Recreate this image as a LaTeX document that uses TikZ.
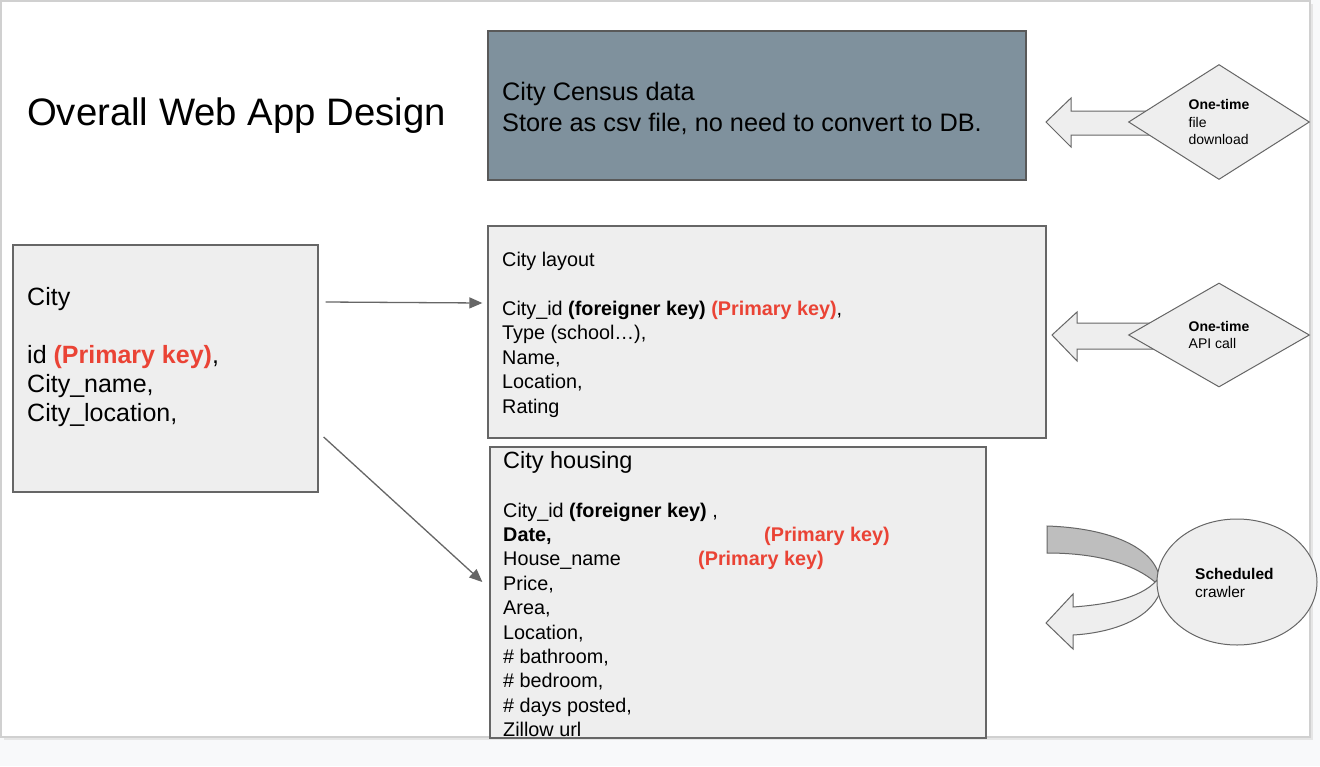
\documentclass[tikz,border=0pt]{standalone}
\usepackage{xcolor}
\usepackage{fontspec}
\usepackage{tikz}
\setmainfont{Liberation Sans}
\definecolor{keyRed}{RGB}{234, 67, 53}
\definecolor{censusGray}{RGB}{127, 145, 157}
\definecolor{boxGray}{RGB}{238, 238, 238}
\definecolor{edgeGray}{RGB}{102, 102, 102}
\definecolor{bandGray}{RGB}{190, 190, 190}
\definecolor{pageGray}{RGB}{248, 249, 250}
\definecolor{frameGray}{RGB}{208, 208, 208}
\usetikzlibrary{shapes.geometric, arrows.meta, positioning}

\newcommand{\pkey}[1]{\textcolor{keyRed}{\bfseries #1}}

\tikzset{
    tablebox/.style={rectangle, draw=edgeGray, line width=1.3pt, fill=boxGray, inner sep=0pt},
    % anchored at the baseline of the last line
    fieldtext/.style={anchor=base west, align=left, inner sep=0pt},
    link/.style={draw=edgeGray, line width=1.3pt, -{Triangle[length=13pt, width=11pt]}},
    fatarrow/.style={draw=edgeGray, line width=1pt, fill=boxGray},
    sourceshape/.style={draw=edgeGray, line width=1pt, fill=boxGray, inner sep=0pt, align=left,
        font=\fontsize{14}{17.5}\selectfont}
}

\begin{document}
\begin{tikzpicture}[x=1pt, y=-1pt]
    \useasboundingbox (0,0) rectangle (1320,766);
    % slide background
    \fill[pageGray] (0,0) rectangle (1320,766);
    \fill[black!10] (4,4) rectangle (1313,740);
    \draw[frameGray, line width=1.5pt, fill=white] (1,1) rectangle (1310,737);

    % title
    \node[fieldtext, font=\fontsize{38.3}{46}\selectfont] (title) at (27,125) {Overall Web App Design};

    % census data
    \node[tablebox, fill=censusGray, draw=black!65, minimum width=538pt, minimum height=149pt] (census) at (757,105.5) {};
    \node[fieldtext, font=\fontsize{25.3}{31}\selectfont] (censusText) at (502,131)
        {City Census data\\Store as csv file, no need to convert to DB.};

    % city table
    \node[tablebox, minimum width=305pt, minimum height=247pt] (city) at (165.5,368.5) {};
    \node[fieldtext, font=\fontsize{25}{29}\selectfont] (cityText) at (27,421)
        {City\\ \\id \pkey{(Primary key)},\\City\_name,\\City\_location,};

    % city layout table
    \node[tablebox, minimum width=558pt, minimum height=212pt] (layout) at (767,332) {};
    \node[fieldtext, font=\fontsize{19.8}{24.5}\selectfont] (layoutText) at (502,413)
        {City layout\\ \\City\_id \textbf{(foreigner key)} \pkey{(Primary key)},\\Type (school\ldots),\\Name,\\Location,\\Rating};

    % city housing table
    \node[tablebox, minimum width=496pt, minimum height=291pt] (housing) at (738,592.5) {};
    \node[fieldtext, font=\fontsize{23.5}{28}\selectfont] (housingTitle) at (503,468) {City housing};
    \begin{scope}
        \clip (housing.south west) rectangle (housing.north east);
        \node[fieldtext, font=\fontsize{19.8}{24.4}\selectfont] (housingText) at (503,736.6)
            {City\_id \textbf{(foreigner key)} ,\\
             \makebox[261pt][l]{\textbf{Date,}}\pkey{(Primary key)}\\
             \makebox[195pt][l]{House\_name}\pkey{(Primary key)}\\
             Price,\\Area,\\Location,\\\# bathroom,\\\# bedroom,\\\# days posted,\\Zillow url};
    \end{scope}

    % links between tables
    \draw[link] ([xshift=7pt, yshift=66.5pt]city.east) -- ([xshift=-5pt, yshift=29pt]layout.west);
    \draw[link] ([xshift=5pt, yshift=-68.5pt]city.east) -- ([xshift=-7pt, yshift=10.5pt]housing.west);

    % one-time download
    \draw[fatarrow] (1046,122) -- (1071,98) -- (1071,111) -- (1160,111) -- (1160,135)
        -- (1071,135) -- (1071,147) -- cycle;
    \node[sourceshape, diamond, minimum width=181pt, minimum height=115pt] (download) at (1219,122)
        {\textbf{One-time}\\file\\download};

    % one-time api call
    \draw[fatarrow] (1052,335) -- (1077,312) -- (1077,323) -- (1160,323) -- (1160,349)
        -- (1077,349) -- (1077,361) -- cycle;
    \node[sourceshape, diamond, minimum width=181pt, minimum height=104pt] (apicall) at (1219,335)
        {\textbf{One-time}\\API call};

    % scheduled crawler
    \draw[fatarrow, fill=bandGray] (1047,526) .. controls (1110,528) and (1158,548) .. (1160,582)
        -- (1155,582) .. controls (1135,565) and (1100,553) .. (1047,553) -- cycle;
    \draw[fatarrow] (1157,580) .. controls (1140,600) and (1100,605) .. (1073,607) -- (1073,594)
        -- (1046,623) -- (1073,649) -- (1073,635) .. controls (1110,633) and (1150,620) .. (1160,592) -- cycle;
    \node[sourceshape, ellipse, minimum width=160pt, minimum height=126pt] (crawler) at (1237,582) {};
    \node[fieldtext, font=\fontsize{15.5}{18}\selectfont] (crawlerText) at (1195,597)
        {\textbf{Scheduled}\\crawler};
\end{tikzpicture}
\end{document}
